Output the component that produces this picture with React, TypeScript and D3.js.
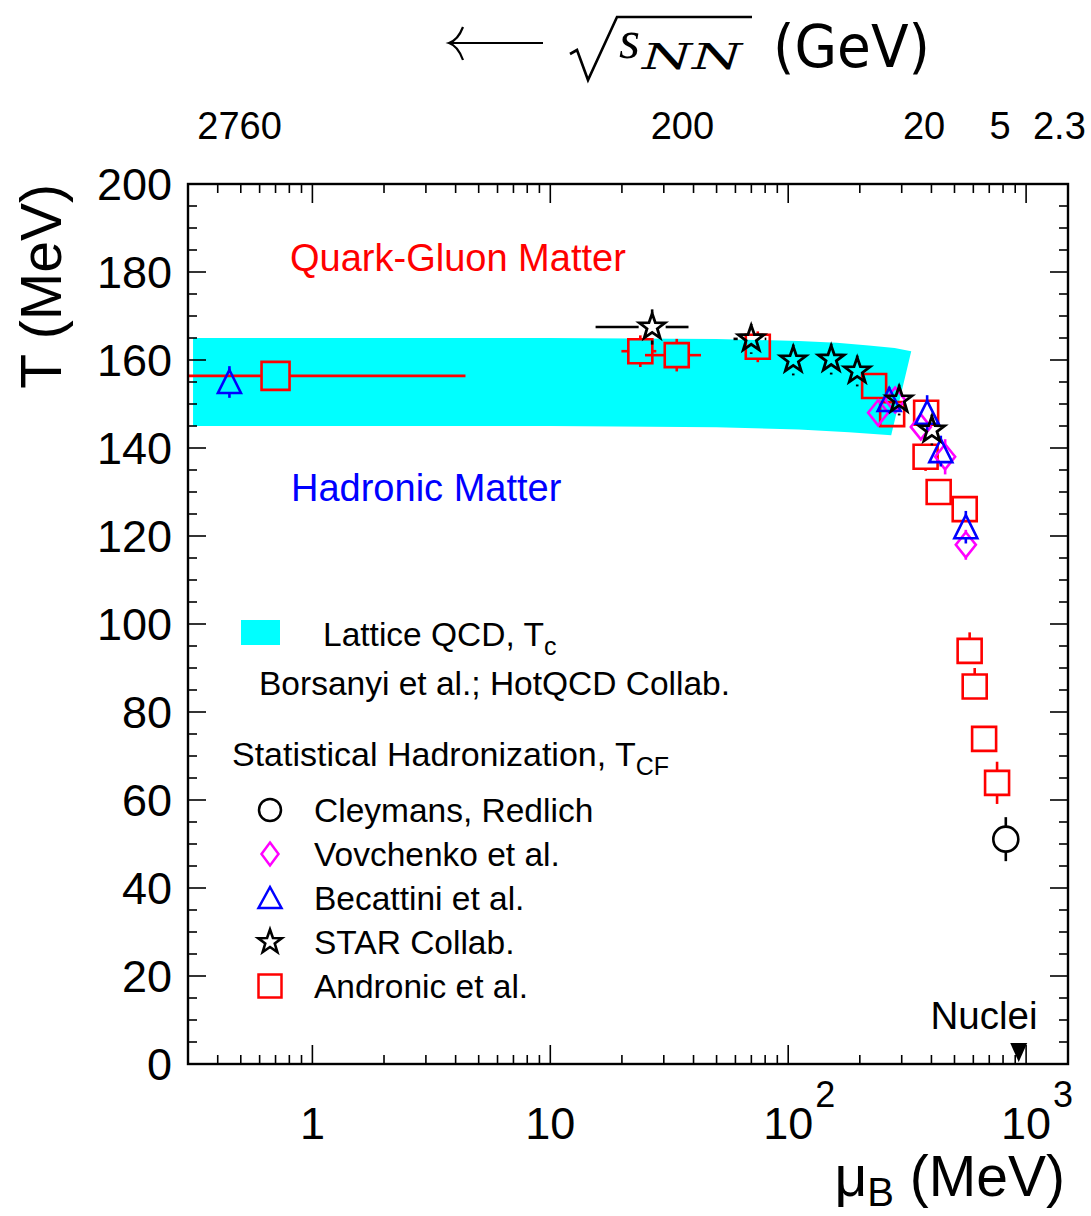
import React from "react";
import * as d3 from "d3";

const W = 1091;
const H = 1216;
const PLOT = { left: 188, right: 1068, top: 184, bottom: 1064 };
const SANS = "'Liberation Sans', Arial, Helvetica, sans-serif";

// Lattice QCD band (Tc)
const bandMuUpper = [0.315, 10, 50, 111, 160, 218, 280, 329];
const bandTUpper = [165, 165, 164.8, 164.3, 163.9, 163.3, 162.7, 162.0];
const bandMuLower = [0.315, 10, 50, 111, 180, 271];
const bandTLower = [145, 145, 144.7, 144.2, 143.6, 142.9];

// Andronic et al. (red squares)
const andronicMu = [0.7, 23.9, 34.0, 74.5, 229.7, 273.5, 380, 378, 429, 552, 579, 608, 666, 755];
const andronicT = [156.4, 162.0, 161.1, 163.0, 154.1, 147.7, 148.0, 138.0, 130.0, 126.1, 93.9, 85.8, 73.9, 63.9];
const andronicMuErr = [3.7, 4, 9, 0, 0, 0, 0, 0, 0, 0, 0, 0, 0, 0];
const andronicTErrUp = [1.5, 3.6, 3.7, 3.5, 1, 1, 1, 1, 1, 1, 4.2, 4.2, 0, 4.8];
const andronicTErrDown = [1.5, 3.6, 3.7, 3.5, 1, 1, 1, 3.2, 1, 1, 0, 0, 0, 4.8];

// STAR Collab. (black stars)
const starMu = [26.8, 69.9, 105, 151.6, 195, 292.6, 401.6];
const starT = [167.5, 164.8, 160.0, 160.2, 157.5, 150.9, 144.1];
const starMuErr = [11.3, 11, 0, 0, 0, 0, 0];
const starTErr = [4, 3.4, 3.5, 3.5, 3.5, 3.5, 3.5];

// Becattini et al. (blue triangles)
const becMu = [0.448, 265.7, 383.7, 438, 558];
const becT = [155.0, 150.9, 148.0, 139.3, 122.0];
const becTErr = [3.6, 3, 4, 3.5, 3.7];

// Vovchenko et al. (magenta diamonds)
const vovMu = [238.8, 281.6, 361, 456.7, 558];
const vovT = [148.0, 150.9, 144.8, 138.0, 118.0];
const vovTErr = [2, 2, 2, 4, 3.4];

// Cleymans, Redlich (black circle)
const cleyMu = [821.6];
const cleyT = [51.1];
const cleyTErr = [5];

// Nuclei
const nucleiMu = 931;

// axes labels
const yTickValues = d3.range(0, 201, 20);
const xTickLabels = [
  { v: 1, base: "1", exp: "" },
  { v: 10, base: "10", exp: "" },
  { v: 100, base: "10", exp: "2" },
  { v: 1000, base: "10", exp: "3" },
];
const topLabels = ["2760", "200", "20", "5", "2.3"];
const topLabelMu = [0.494, 35.9, 372.6, 778, 1380];

const x = d3.scaleLog().domain([0.3, 1500]).range([PLOT.left, PLOT.right]);
const y = d3.scaleLinear().domain([0, 200]).range([PLOT.bottom, PLOT.top]);

const squarePath = (s: number) => `M${-s / 2},${-s / 2}h${s}v${s}h${-s}Z`;
const diamondPath = (w: number, h: number) => `M0,${-h / 2}L${w / 2},0L0,${h / 2}L${-w / 2},0Z`;
const trianglePath = (w: number, h: number) => `M0,${-h / 2 - 1}L${w / 2},${h / 2}L${-w / 2},${h / 2}Z`;
const starPath = (R: number) => {
  const r = R * 0.4;
  const pts: string[] = [];
  for (let i = 0; i < 10; i++) {
    const a = -Math.PI / 2 + (i * Math.PI) / 5;
    const rr = i % 2 === 0 ? R : r;
    pts.push(`${(rr * Math.cos(a)).toFixed(2)},${(rr * Math.sin(a)).toFixed(2)}`);
  }
  return "M" + pts.join("L") + "Z";
};

function ErrBars({ cx, cy, left, right, up, down, gapX, gapY, color }: any) {
  const segs: any[] = [];
  if (up > gapY) segs.push([cx, cy - gapY, cx, cy - up]);
  if (down > gapY) segs.push([cx, cy + gapY, cx, cy + down]);
  if (left > gapX) segs.push([cx - gapX, cy, cx - left, cy]);
  if (right > gapX) segs.push([cx + gapX, cy, cx + right, cy]);
  return (
    <g stroke={color} strokeWidth={2.6}>
      {segs.map((s, i) => (
        <line key={i} x1={s[0]} y1={s[1]} x2={s[2]} y2={s[3]} />
      ))}
    </g>
  );
}

function App() {
  const bandPts: [number, number][] = [
    ...bandMuUpper.map((m, i) => [x(m), y(bandTUpper[i])] as [number, number]),
    ...bandMuLower
      .map((m, i) => [x(m), y(bandTLower[i])] as [number, number])
      .reverse(),
  ];
  const bandD = d3.line()(bandPts) + "Z";

  const xTicks = x.ticks().filter((t) => t > 0.3 + 1e-9 && t < 1500);
  const isMajorX = (t: number) => Math.abs(Math.log10(t) - Math.round(Math.log10(t))) < 1e-9;
  const yTicks = d3.range(0, 201, 5);

  const legendX = 270;
  const legendRows = [
    { y: 810, label: "Cleymans, Redlich", kind: "circle" },
    { y: 854, label: "Vovchenko et al.", kind: "diamond" },
    { y: 898, label: "Becattini et al.", kind: "triangle" },
    { y: 942, label: "STAR Collab.", kind: "star" },
    { y: 986, label: "Andronic et al.", kind: "square" },
  ];

  const legendMarker = (kind: string) => {
    switch (kind) {
      case "circle":
        return <circle r={11} fill="none" stroke="#000" strokeWidth={2.5} />;
      case "diamond":
        return <path d={diamondPath(17, 23)} fill="none" stroke="#ff00ff" strokeWidth={2.5} />;
      case "triangle":
        return <path d={trianglePath(23, 20)} fill="none" stroke="#0000ff" strokeWidth={2.5} />;
      case "star":
        return <path d={starPath(12.5)} fill="none" stroke="#000" strokeWidth={2.6} />;
      default:
        return <path d={squarePath(23)} fill="none" stroke="#ff0000" strokeWidth={2.5} />;
    }
  };

  return (
    <svg
      width={W}
      height={H}
      viewBox={`0 0 ${W} ${H}`}
      style={{ display: "block", background: "#fff", position: "absolute", left: 0, top: 0 }}
    >
      <defs>
        <clipPath id="plotclip">
          <rect x={PLOT.left} y={PLOT.top} width={PLOT.right - PLOT.left} height={PLOT.bottom - PLOT.top} />
        </clipPath>
      </defs>
      <rect x={0} y={0} width={W} height={H} fill="#fff" />

      {/* Title: <- sqrt(s_NN) (GeV) */}
      <g>
        <line x1={449} y1={43} x2={543} y2={43} stroke="#000" strokeWidth={2.2} />
        <path d="M463,27 Q458,40 449,43 Q458,46 463,60" fill="none" stroke="#000" strokeWidth={2.2} />
        <path d="M570,54 L577,50 L588,80 L617,17 L752,17" fill="none" stroke="#000" strokeWidth={2.6} strokeLinejoin="miter" />
        <text x={619} y={58} fontFamily="'Liberation Serif', 'DejaVu Serif', serif" fontStyle="italic" fontSize={54}>
          s
        </text>
        <text
          x={642}
          y={69}
          fontFamily="'DejaVu Serif', 'Liberation Serif', serif"
          fontStyle="italic"
          fontSize={36}
          textLength={100}
          lengthAdjust="spacingAndGlyphs"
        >
          NN
        </text>
        <text x={773} y={67} fontFamily="'DejaVu Sans', sans-serif" fontSize={58} textLength={157} lengthAdjust="spacingAndGlyphs">
          (GeV)
        </text>
      </g>

      {/* top axis labels */}
      {topLabels.map((t, i) => (
        <text key={t} x={x(topLabelMu[i])} y={139} textAnchor="middle" fontFamily={SANS} fontSize={38}>
          {t}
        </text>
      ))}

      {/* band */}
      <path d={bandD} fill="#00ffff" stroke="none" clipPath="url(#plotclip)" />

      {/* Andronic squares */}
      <g clipPath="url(#plotclip)">
        {andronicMu.map((m, i) => {
          const cx = x(m);
          const cy = y(andronicT[i]);
          const s = i === 0 ? 28 : 24;
          return (
            <g key={i}>
              <ErrBars
                cx={cx}
                cy={cy}
                left={andronicMuErr[i] > 0 ? cx - x(Math.max(m - andronicMuErr[i], 0.01)) : 0}
                right={andronicMuErr[i] > 0 ? x(m + andronicMuErr[i]) - cx : 0}
                up={y(andronicT[i]) - y(andronicT[i] + andronicTErrUp[i])}
                down={y(andronicT[i] - andronicTErrDown[i]) - y(andronicT[i])}
                gapX={s / 2}
                gapY={s / 2}
                color="#ff0000"
              />
              <path d={squarePath(s)} transform={`translate(${cx},${cy})`} fill="none" stroke="#ff0000" strokeWidth={2.6} />
            </g>
          );
        })}
      </g>

      {/* Vovchenko diamonds */}
      <g>
        {vovMu.map((m, i) => {
          const cx = x(m);
          const cy = y(vovT[i]);
          const dy = y(vovT[i]) - y(vovT[i] + vovTErr[i]);
          return (
            <g key={i}>
              <ErrBars cx={cx} cy={cy} left={0} right={0} up={dy} down={dy} gapX={10} gapY={12.5} color="#ff00ff" />
              <path d={diamondPath(20, 25)} transform={`translate(${cx},${cy})`} fill="none" stroke="#ff00ff" strokeWidth={2.6} />
            </g>
          );
        })}
      </g>

      {/* Becattini triangles */}
      <g>
        {becMu.map((m, i) => {
          const cx = x(m);
          const cy = y(becT[i]);
          const dy = y(becT[i]) - y(becT[i] + becTErr[i]);
          return (
            <g key={i}>
              <ErrBars cx={cx} cy={cy} left={0} right={0} up={dy} down={dy} gapX={11.5} gapY={11.5} color="#0000ff" />
              <path d={trianglePath(23, 22)} transform={`translate(${cx},${cy})`} fill="none" stroke="#0000ff" strokeWidth={2.6} />
            </g>
          );
        })}
      </g>

      {/* STAR stars */}
      <g>
        {starMu.map((m, i) => {
          const cx = x(m);
          const cy = y(starT[i]);
          const dy = y(starT[i]) - y(starT[i] + starTErr[i]);
          return (
            <g key={i}>
              <ErrBars
                cx={cx}
                cy={cy}
                left={starMuErr[i] > 0 ? cx - x(m - starMuErr[i]) : 0}
                right={starMuErr[i] > 0 ? x(m + starMuErr[i]) - cx : 0}
                up={dy}
                down={dy}
                gapX={13.5}
                gapY={13.5}
                color="#000"
              />
              <path d={starPath(13.5)} transform={`translate(${cx},${cy})`} fill="none" stroke="#000" strokeWidth={2.8} />
            </g>
          );
        })}
      </g>

      {/* Cleymans circle */}
      <g>
        {cleyMu.map((m, i) => {
          const cx = x(m);
          const cy = y(cleyT[i]);
          const dy = y(cleyT[i]) - y(cleyT[i] + cleyTErr[i]);
          return (
            <g key={i}>
              <ErrBars cx={cx} cy={cy} left={0} right={0} up={dy} down={dy} gapX={13} gapY={13} color="#000" />
              <circle cx={cx} cy={cy} r={12.5} fill="none" stroke="#000" strokeWidth={2.6} />
            </g>
          );
        })}
      </g>

      {/* Nuclei marker */}
      <path
        d={`M${x(nucleiMu) - 8.5},${PLOT.bottom - 21} L${x(nucleiMu) + 8.5},${PLOT.bottom - 21} L${x(nucleiMu)},${PLOT.bottom - 2} Z`}
        fill="#000"
      />
      <text x={984} y={1029} textAnchor="middle" fontFamily={SANS} fontSize={38.5}>
        Nuclei
      </text>

      {/* frame */}
      <rect
        x={PLOT.left}
        y={PLOT.top}
        width={PLOT.right - PLOT.left}
        height={PLOT.bottom - PLOT.top}
        fill="none"
        stroke="#000"
        strokeWidth={2.4}
      />

      {/* x ticks top & bottom */}
      <g stroke="#000" strokeWidth={1.6}>
        {xTicks.map((t) => {
          const L = isMajorX(t) ? 19 : 9;
          const xx = x(t);
          return (
            <g key={t}>
              <line x1={xx} x2={xx} y1={PLOT.bottom} y2={PLOT.bottom - L} />
              <line x1={xx} x2={xx} y1={PLOT.top} y2={PLOT.top + L} />
            </g>
          );
        })}
      </g>
      {/* y ticks left & right */}
      <g stroke="#000" strokeWidth={1.6}>
        {yTicks.map((t) => {
          const L = t % 20 === 0 ? 18 : 9;
          const yy = y(t);
          return (
            <g key={t}>
              <line x1={PLOT.left} x2={PLOT.left + L} y1={yy} y2={yy} />
              <line x1={PLOT.right} x2={PLOT.right - L} y1={yy} y2={yy} />
            </g>
          );
        })}
      </g>

      {/* y tick labels */}
      {yTickValues.map((t) => (
        <text key={t} x={172} y={y(t) + 16} textAnchor="end" fontFamily={SANS} fontSize={45}>
          {t}
        </text>
      ))}

      {/* x tick labels */}
      {xTickLabels.map((d) => (
        <g key={d.v}>
          <text x={x(d.v)} y={1139} textAnchor="middle" fontFamily={SANS} fontSize={45}>
            {d.base}
          </text>
          {d.exp && (
            <text x={x(d.v) + 27} y={1107} fontFamily={SANS} fontSize={36}>
              {d.exp}
            </text>
          )}
        </g>
      ))}

      {/* axis titles */}
      <text transform="translate(61,184) rotate(-90)" textAnchor="end" fontFamily={SANS} fontSize={57}>
        T (MeV)
      </text>
      <text x={1065} y={1196} textAnchor="end" fontFamily={SANS} fontSize={57}>
        μ
        <tspan fontSize={40} dy={10}>B</tspan>
        <tspan dy={-10}> (MeV)</tspan>
      </text>

      {/* region labels */}
      <text x={290} y={271} fontFamily={SANS} fontSize={38} fill="#ff0000">
        Quark-Gluon Matter
      </text>
      <text x={291} y={501} fontFamily={SANS} fontSize={38} fill="#0000ff">
        Hadronic Matter
      </text>

      {/* legend */}
      <rect x={241} y={620} width={39} height={25} fill="#00ffff" />
      <text x={323} y={646} fontFamily={SANS} fontSize={33.5}>
        Lattice QCD, T<tspan fontSize={25} dy={9}>c</tspan>
      </text>
      <text x={259} y={695} fontFamily={SANS} fontSize={33.5}>
        Borsanyi et al.; HotQCD Collab.
      </text>
      <text x={232} y={766} fontFamily={SANS} fontSize={34}>
        Statistical Hadronization, T<tspan fontSize={25} dy={9}>CF</tspan>
      </text>
      {legendRows.map((r) => (
        <g key={r.label}>
          <g transform={`translate(${legendX},${r.y})`}>{legendMarker(r.kind)}</g>
          <text x={314} y={r.y + 12} fontFamily={SANS} fontSize={33.5}>
            {r.label}
          </text>
        </g>
      ))}
    </svg>
  );
}

export default App;
